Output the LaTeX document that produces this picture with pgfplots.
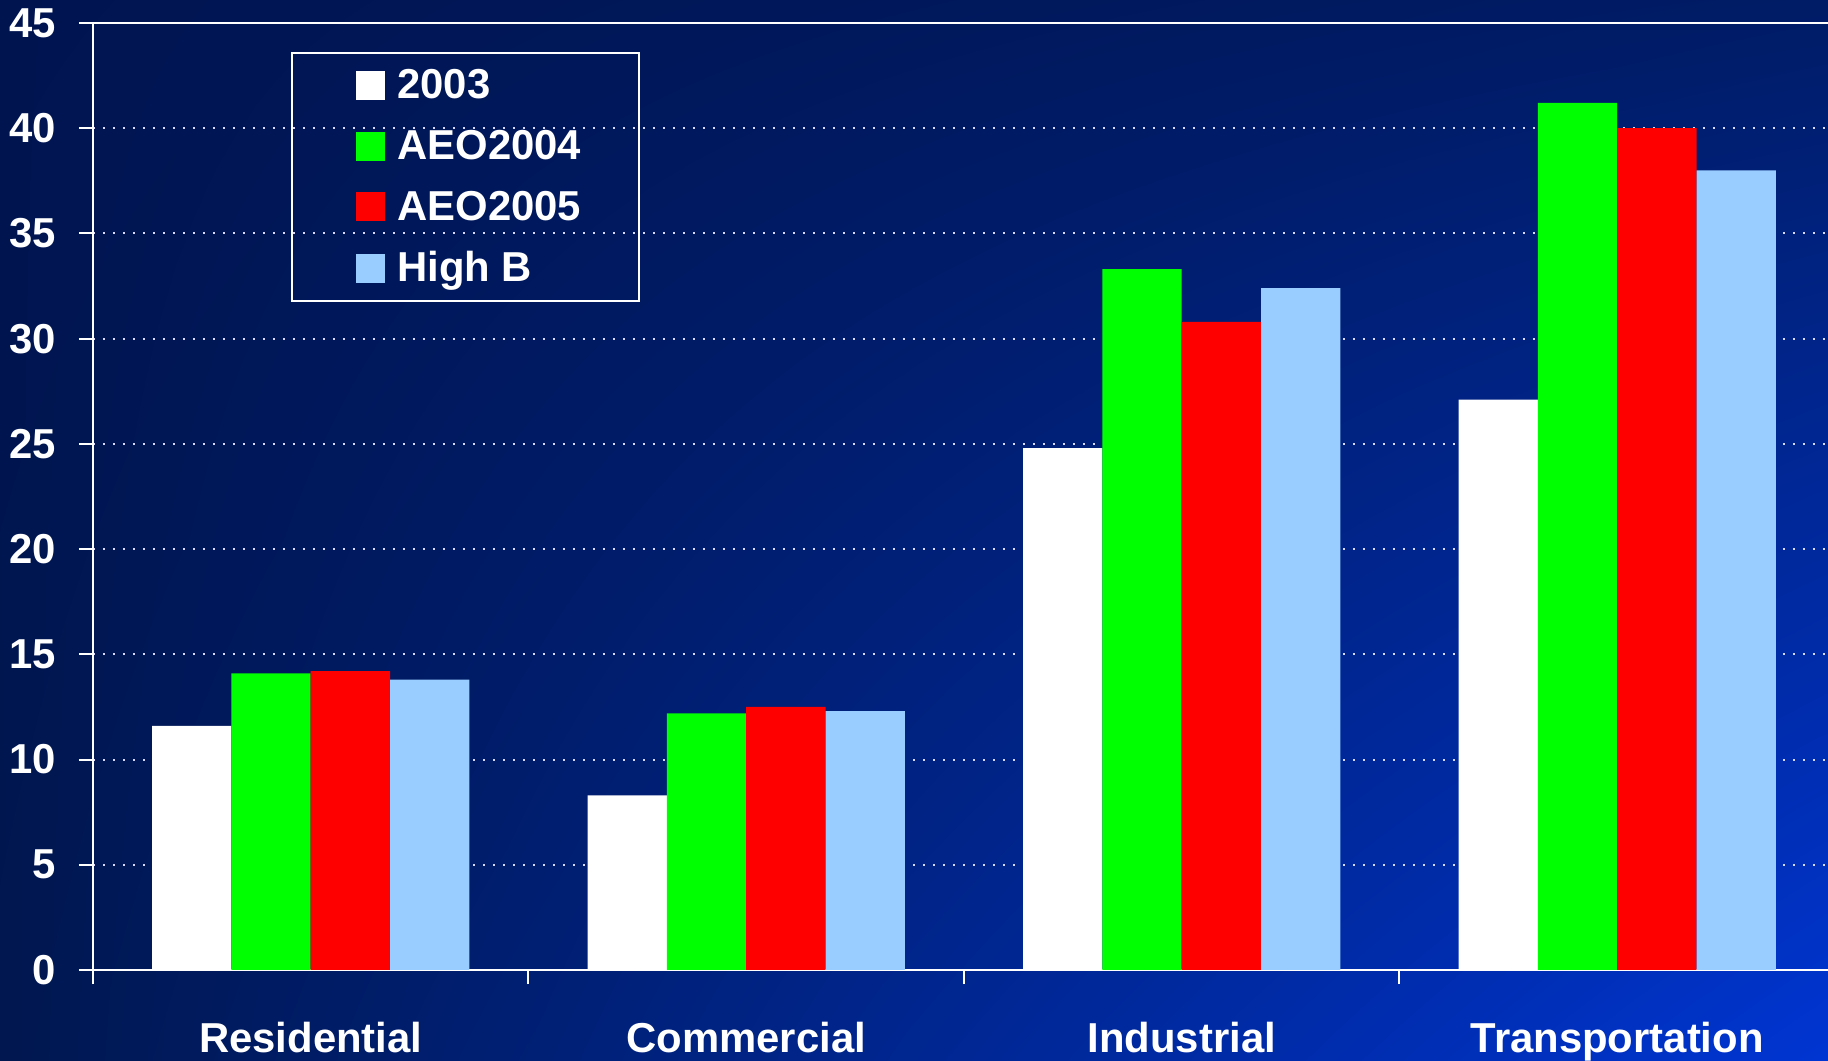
\documentclass[border=0pt]{standalone}
\usepackage{fontspec}
\setmainfont{Liberation Sans}
\usepackage{pgfplots}
\pgfplotsset{compat=1.18}
\usetikzlibrary{shadings}

\definecolor{bgTL}{HTML}{001450}
\definecolor{bgTR}{HTML}{001C66}
\definecolor{bgBL}{HTML}{00174F}
\definecolor{bgBR}{HTML}{0035D2}
\definecolor{aeoGreen}{HTML}{00FF00}
\definecolor{aeoRed}{HTML}{FF0000}
\definecolor{highB}{HTML}{99CCFF}

\pgfplotsset{
  sqlegend/.style={legend image code/.code={%
    \path (0bp,0bp);
    \fill[##1] (5bp,-7.25bp) rectangle (19.5bp,7.25bp);}},
}

\begin{document}
\begin{tikzpicture}
\shade[use as bounding box, upper left=bgTL, upper right=bgTR, lower left=bgBL, lower right=bgBR]
  (-46.5bp,-45.5bp) rectangle (867.5bp,485bp);
\begin{axis}[
  at={(0,0)}, anchor=south west, scale only axis,
  width=867.5bp, height=473.5bp,
  ymin=0, ymax=45, ytick={0,5,...,45},
  xmin=-0.5, xmax=3.484,
  axis x line=bottom, axis y line=left,
  axis line style={white, line width=1.2bp, -},
  tick align=outside,
  major tick length=7bp,
  every tick/.style={white, line width=1bp},
  xtick={-0.5,0.5,1.5,2.5},
  xticklabels={},
  extra x ticks={0,1,2,3},
  extra x tick labels={Residential,Commercial,Industrial,Transportation},
  extra x tick style={major tick length=0pt},
  ymajorgrids,
  major grid style={white!85!blue, line width=1bp, dash pattern=on 1.2bp off 3.8bp},
  /pgf/number format/assume math mode=true,
  tick label style={text=white, font=\fontsize{21}{25}\selectfont\bfseries},
  xticklabel style={yshift=-22.5bp},
  yticklabel style={xshift=-8bp},
  ybar, bar width=0.182,
  legend style={
    at={(0.114,0.969)}, anchor=north west,
    draw=white, line width=1bp, fill=none,
    text=white, font=\fontsize{21}{25}\selectfont\bfseries,
    inner xsep=27bp, inner ysep=6bp,
    row sep=10.3bp,
    /tikz/every odd column/.append style={column sep=4.3bp},
  },
  legend cell align=left,
]
\addplot[fill=white, draw=none, bar shift=-0.273, sqlegend]
  coordinates {(0,11.6) (1,8.3) (2,24.8) (3,27.1)};
\addplot[fill=aeoGreen, draw=none, bar shift=-0.091, sqlegend]
  coordinates {(0,14.1) (1,12.2) (2,33.3) (3,41.2)};
\addplot[fill=aeoRed, draw=none, bar shift=0.091, sqlegend]
  coordinates {(0,14.2) (1,12.5) (2,30.8) (3,40.0)};
\addplot[fill=highB, draw=none, bar shift=0.273, sqlegend]
  coordinates {(0,13.8) (1,12.3) (2,32.4) (3,38.0)};
\legend{2003,AEO2004,AEO2005,High B}
\draw[white, line width=1.2bp] (rel axis cs:0,1) -- (rel axis cs:1,1);
\end{axis}
\end{tikzpicture}
\end{document}
